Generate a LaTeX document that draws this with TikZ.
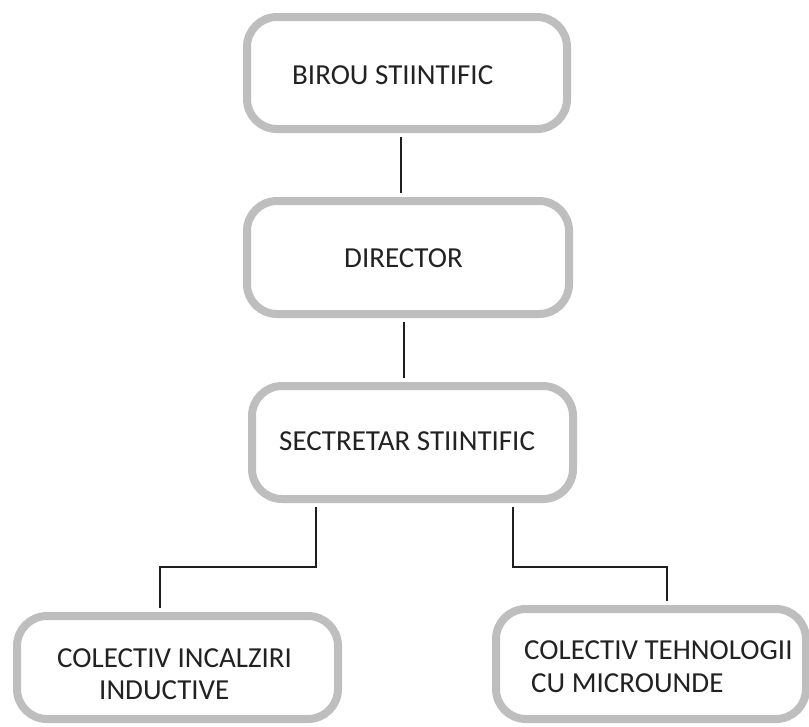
\documentclass[tikz,border=0pt]{standalone}
\usepackage{fontspec}
\setmainfont{Carlito}
\definecolor{boxgray}{HTML}{BEBEBE}
\definecolor{txt}{HTML}{222222}
\definecolor{wire}{HTML}{1E1E1E}
\begin{document}
\begin{tikzpicture}[x=1pt,y=-1pt,
  orgbox/.style={draw=boxgray, line width=8pt, rounded corners=30pt, fill=white, inner sep=0pt},
  lbl/.style={anchor=west, inner sep=0pt, text=txt, font=\fontsize{29}{34}\selectfont},
  wireline/.style={draw=wire, line width=1.8pt, shorten <=4pt, shorten >=4pt}]
\fill[white] (0,0) rectangle (809,726);
\useasboundingbox (0,0) rectangle (809,726);
% boxes
\node[orgbox, minimum width=320pt, minimum height=112pt] (b1) at (407,73) {};
\node[orgbox, minimum width=322pt, minimum height=113pt] (b2) at (408,257.5) {};
\node[orgbox, minimum width=321pt, minimum height=113pt] (b3) at (412.5,442.5) {};
\node[orgbox, minimum width=321pt, minimum height=103pt] (b4) at (177.5,667.5) {};
\node[orgbox, minimum width=310pt, minimum height=110pt] (b5) at (651,664) {};
% labels
\node[lbl] (t1) at (292,75) {BIROU STIINTIFIC};
\node[lbl] (t2) at (344,258) {DIRECTOR};
\node[lbl] (t3) at (279,441) {SECTRETAR STIINTIFIC};
\node[lbl] (t4a) at (57,658) {COLECTIV INCALZIRI};
\node[lbl] (t4b) at (99,690) {INDUCTIVE};
\node[lbl] (t5a) at (524,650) {COLECTIV TEHNOLOGII};
\node[lbl] (t5b) at (531,683) {CU MICROUNDE};
% connectors
\coordinate (c1) at (401,0);
\coordinate (c2) at (404,0);
\coordinate (c3) at (316,0);
\coordinate (c4) at (160,0);
\coordinate (c5) at (513,0);
\coordinate (c6) at (667,0);
\coordinate (hy) at (0,567);
\draw[wireline] (c1 |- b1.south) -- (c1 |- b2.north);
\draw[wireline] (c2 |- b2.south) -- (c2 |- b3.north);
\draw[wireline] (c3 |- b3.south) -- (c3 |- hy) -- (c4 |- hy) -- (c4 |- b4.north);
\draw[wireline] (c5 |- b3.south) -- (c5 |- hy) -- (c6 |- hy) -- (c6 |- b5.north);
\end{tikzpicture}
\end{document}
